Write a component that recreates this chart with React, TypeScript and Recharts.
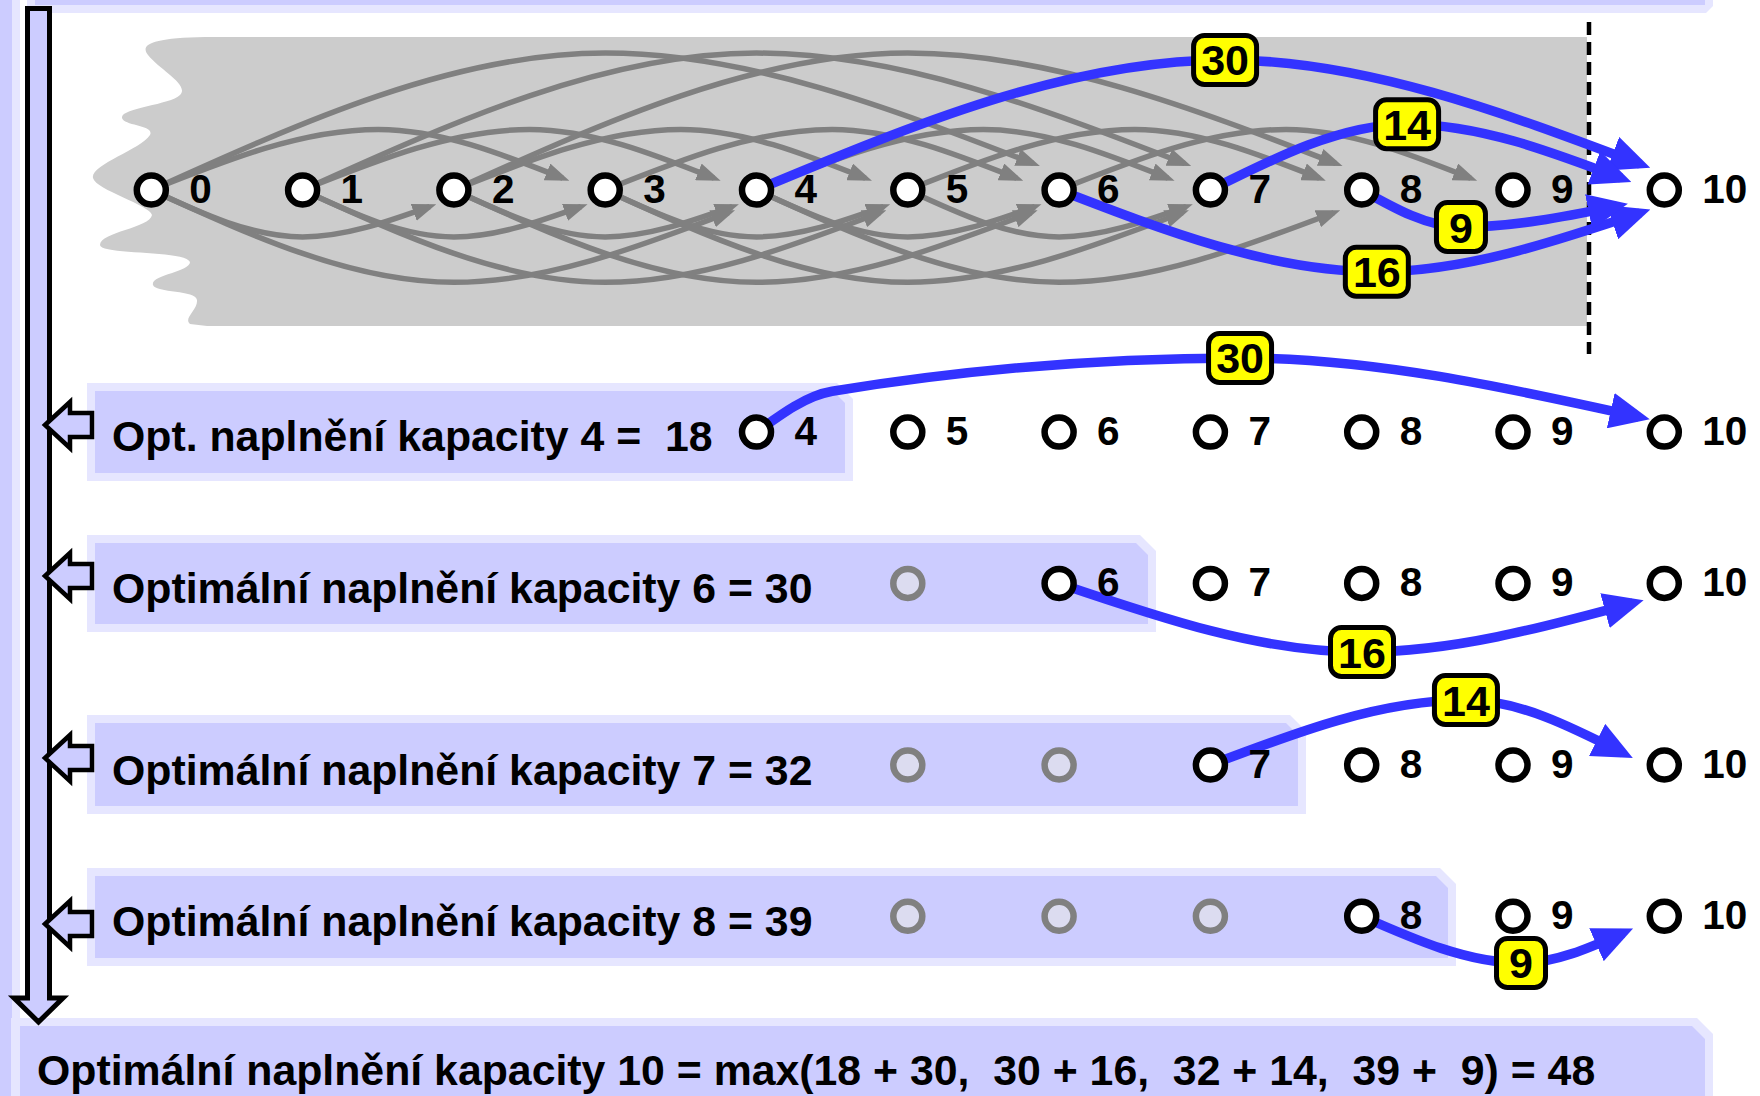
import React from 'react';
import { ComposedChart, XAxis, YAxis, Line, Scatter } from 'recharts';

// ---------------- data ----------------
const NODES = [0, 1, 2, 3, 4, 5, 6, 7, 8, 9, 10];
const TOTAL_CAPACITY = 10;
const ITEM_WEIGHTS = [2, 3, 4, 6];
const ITEM_VALUES = [9, 14, 16, 30];
// last source node from which each item's grey edge is drawn in the full graph
const LAST_GRAY_SOURCE = [5, 6, 4, 2];
const SUB_CAPACITIES = [4, 6, 7, 8];
const SUB_OPTIMA = [18, 30, 32, 39];
// first node shown in each row and first active node in each row
const ROW_FIRST_SHOWN = [0, 4, 5, 5, 5];
const ROW_START_NODE = [0, 4, 6, 7, 8];

// ---------------- layout ----------------
const W = 1760;
const H = 1096;
const STEP = 151.3; // px per node step (same on both axes)
const X0 = 151.3; // px of node 0
const Y0 = 190; // px of row 0
const X_DOMAIN = [-X0 / STEP, (W - X0) / STEP];
const Y_DOMAIN = [-Y0 / STEP, (H - Y0) / STEP];
const ROW_LEVELS = [0, 1.6, 2.6, 3.8, 4.8];

// arc shape for each weight: bulge (negative = above) and line end offset from target
const ARC_BULGE: Record<number, number> = { 2: 0.31, 3: -0.4, 4: 0.61, 6: -0.905 };
const ARC_END: Record<number, [number, number]> = {
  2: [-0.16, 0.11],
  3: [-0.28, -0.078],
  4: [-0.185, 0.15],
  6: [-0.17, -0.175],
};
// curve guide points of the highlighted edges (order of SUB_CAPACITIES)
type Guide = { lead?: number[]; via: number[]; end: number[] };
const FULL_BEST_LAYOUT: Guide[] = [
  { via: [7.097, -0.86], end: [9.839, -0.172] },
  { via: [8.1, 0.54], end: [9.839, 0.152] },
  { via: [8.3, -0.435], end: [9.714, -0.079] },
  { via: [8.656, 0.245], end: [9.688, 0.106] },
];
const ROW_BEST_LAYOUT: Guide[] = [
  { lead: [4.5, 1.33], via: [7.196, 1.11], end: [9.833, 1.5] },
  { via: [8.002, 3.054], end: [9.793, 2.73] },
  { via: [8.689, 3.371], end: [9.727, 3.721] },
  { via: [9.053, 5.109], end: [9.727, 4.911] },
];

const FONT = '"Liberation Sans", Arial, Helvetica, sans-serif';
const LAV = '#ccccff';
const LAV_LIGHT = '#e6e6ff';
const BLUE = '#3333ff';
const GREY = '#808080';

// ---------------- derived series ----------------
type Pt = { x: number; y: number };

const grayEdges: Pt[][] = ITEM_WEIGHTS.flatMap((w, k) => {
  const out: Pt[][] = [];
  for (let s = 0; s <= LAST_GRAY_SOURCE[k]; s++) {
    out.push([
      { x: s, y: 0 },
      { x: s + w / 2, y: ARC_BULGE[w] },
      { x: s + w + ARC_END[w][0], y: ARC_END[w][1] },
    ]);
  }
  return out;
});

const itemValueFor = (c: number) => ITEM_VALUES[ITEM_WEIGHTS.indexOf(TOTAL_CAPACITY - c)];

const buildPts = (from: number, level: number, g: Guide): Pt[] => {
  const pts: Pt[] = [{ x: from, y: level }];
  if (g.lead) pts.push({ x: g.lead[0], y: g.lead[1] });
  pts.push({ x: g.via[0], y: g.via[1] });
  pts.push({ x: g.end[0], y: g.end[1] });
  return pts;
};

const blueEdges: { pts: Pt[]; via: Pt; value: number }[] = [];
SUB_CAPACITIES.forEach((c, k) => {
  const v = itemValueFor(c);
  const f = FULL_BEST_LAYOUT[k];
  blueEdges.push({ pts: buildPts(c, ROW_LEVELS[0], f), via: { x: f.via[0], y: f.via[1] }, value: v });
  const r = ROW_BEST_LAYOUT[k];
  blueEdges.push({ pts: buildPts(c, ROW_LEVELS[k + 1], r), via: { x: r.via[0], y: r.via[1] }, value: v });
});

const tagData = blueEdges.map((e) => ({ x: e.via.x, y: e.via.y, value: e.value }));

const nodeData = ROW_LEVELS.flatMap((lvl, r) =>
  NODES.filter((n) => n >= ROW_FIRST_SHOWN[r]).map((n) => ({
    x: n,
    y: lvl,
    label: n >= ROW_START_NODE[r] ? String(n) : '',
    muted: n < ROW_START_NODE[r],
  }))
);

const rowTexts = SUB_CAPACITIES.map((c, k) =>
  k === 0
    ? `Opt. naplnění kapacity ${c} =  ${SUB_OPTIMA[k]}`
    : `Optimální naplnění kapacity ${c} = ${SUB_OPTIMA[k]}`
);
const sums = SUB_CAPACITIES.map((c, k) => SUB_OPTIMA[k] + itemValueFor(c));
const bottomText = `Optimální naplnění kapacity ${TOTAL_CAPACITY} = max(${SUB_CAPACITIES.map(
  (c, k) => `${SUB_OPTIMA[k]} + ${String(itemValueFor(c)).padStart(2, ' ')}`
).join(',  ')}) = ${Math.max(...sums)}`;

// ---------------- shapes ----------------
function NodeShape(props: any) {
  const { cx, cy, payload } = props;
  if (cx == null || cy == null) return <g />;
  return (
    <g>
      <circle
        cx={cx}
        cy={cy}
        r={14.5}
        fill={payload.muted ? '#dcdcf0' : '#ffffff'}
        stroke={payload.muted ? GREY : '#000'}
        strokeWidth={6.5}
      />
      {payload.label ? (
        <text x={cx + 38} y={cy + 13} fontSize={40.5} fontWeight="bold" fontFamily={FONT} fill="#000">
          {payload.label}
        </text>
      ) : null}
    </g>
  );
}

function ValueTag(props: any) {
  const { cx, cy, payload } = props;
  if (cx == null || cy == null) return <g />;
  const txt = String(payload.value);
  const w = txt.length > 1 ? 63 : 49;
  return (
    <g>
      <rect x={cx - w / 2} y={cy - 24.5} width={w} height={49} rx={11} ry={11} fill="#ffff00" stroke="#000" strokeWidth={5} />
      <text x={cx} y={cy + 15.5} textAnchor="middle" fontSize={43} fontWeight="bold" fontFamily={FONT} fill="#000">
        {txt}
      </text>
    </g>
  );
}

const boxPath = (x1: number, y1: number, x2: number, y2: number, c: number) =>
  `M${x1},${y1} H${x2 - c} L${x2},${y1 + c} V${y2} H${x1} Z`;

const ROW_BOXES = [
  [87, 383, 853, 481],
  [87, 535, 1156, 632],
  [87, 715, 1306, 814],
  [87, 868, 1456, 966],
];
const ROW_TEXT_BASELINES = [451, 603, 785, 936];
const SMALL_ARROW_Y = [425, 576, 758, 924];

function Underlay() {
  return (
    <svg width={W} height={H} style={{ position: 'absolute', left: 0, top: 0 }}>
      <defs>
        <marker id="arrowGray" viewBox="0 0 24 18" refX={17} refY={9} markerWidth={24} markerHeight={18} markerUnits="userSpaceOnUse" orient="auto">
          <path d="M0,0 L24,9 L0,18 Z" fill={GREY} />
        </marker>
        <marker id="arrowBlue" viewBox="0 0 40 36" refX={29} refY={18} markerWidth={40} markerHeight={36} markerUnits="userSpaceOnUse" orient="auto">
          <path d="M0,0 L40,18 L0,36 Z" fill={BLUE} />
        </marker>
      </defs>
      {/* left strip */}
      <rect x={0} y={0} width={12} height={H} fill={LAV} />
      <rect x={12} y={0} width={8} height={H} fill={LAV_LIGHT} />
      {/* top band (bottom of box above) */}
      <path d="M27,0 H1713 V6 L1706,13 H27 Z" fill={LAV_LIGHT} />
      <rect x={35} y={0} width={1670} height={5} fill={LAV} />
      {/* grey area with torn left edge */}
      <path
        d="M1587,37 L205,37 C150,38 140,45 148,55 C160,70 190,85 180,95 C170,105 120,108 122,118 C124,126 155,125 150,135 C140,150 90,165 93,178 C96,190 150,205 152,215 C150,228 100,232 100,245 C100,255 185,250 190,262 C190,272 150,275 153,285 C156,293 196,290 197,300 C198,310 183,318 190,324 L207,326 L1587,326 Z"
        fill="#cccccc"
      />
      <line x1={1589} y1={22} x2={1589} y2={354} stroke="#000" strokeWidth={4.5} strokeDasharray="13 7" />
      {/* row boxes */}
      {ROW_BOXES.map(([x1, y1, x2, y2], i) => (
        <g key={'box' + i}>
          <path d={boxPath(x1, y1, x2, y2, 16)} fill={LAV_LIGHT} />
          <path d={boxPath(x1 + 8, y1 + 8, x2 - 8, y2 - 8, 12)} fill={LAV} />
        </g>
      ))}
      {rowTexts.map((t, i) => (
        <text
          key={'rt' + i}
          x={112}
          y={ROW_TEXT_BASELINES[i]}
          fontSize={42.8}
          fontWeight="bold"
          fontFamily={FONT}
          fill="#000"
          style={{ whiteSpace: 'pre' }}
        >
          {t}
        </text>
      ))}
      {/* bottom box */}
      <path d={boxPath(11, 1018, 1713, 1110, 16)} fill={LAV_LIGHT} />
      <path d={boxPath(20, 1026, 1705, 1110, 13)} fill={LAV} />
      <text x={37} y={1085} fontSize={42.8} fontWeight="bold" fontFamily={FONT} fill="#000" style={{ whiteSpace: 'pre' }}>
        {bottomText}
      </text>
      {/* big downward arrow */}
      <path
        d="M27.5,8.5 L49.5,8.5 L49.5,998 L63,998 L38.5,1022 L14,998 L27.5,998 Z"
        fill={LAV}
        stroke="#000"
        strokeWidth={5}
        strokeLinejoin="miter"
      />
      {/* small left arrows */}
      {SMALL_ARROW_Y.map((y, i) => (
        <path
          key={'sa' + i}
          d={`M45,${y} L70,${y - 23} L70,${y - 12} L92,${y - 12} L92,${y + 12} L70,${y + 12} L70,${y + 23} Z`}
          fill={LAV}
          stroke="#000"
          strokeWidth={4.5}
          strokeLinejoin="miter"
        />
      ))}
    </svg>
  );
}

export default function App() {
  return (
    <div style={{ position: 'absolute', left: 0, top: 0, width: W, height: H, background: '#fff', overflow: 'hidden' }}>
      <Underlay />
      <div style={{ position: 'absolute', left: 0, top: 0, width: W, height: H }}>
        <ComposedChart width={W} height={H} margin={{ top: 0, right: 0, bottom: 0, left: 0 }}>
          <XAxis type="number" dataKey="x" domain={X_DOMAIN} hide height={0} />
          <YAxis type="number" dataKey="y" domain={Y_DOMAIN} reversed hide width={0} />
          {grayEdges.map((pts, i) => (
            <Line
              key={'g' + i}
              data={pts}
              dataKey="y"
              type="monotoneX"
              stroke={GREY}
              strokeWidth={5.5}
              dot={false}
              activeDot={false}
              isAnimationActive={false}
              markerEnd="url(#arrowGray)"
            />
          ))}
          {blueEdges.map((e, i) => (
            <Line
              key={'b' + i}
              data={e.pts}
              dataKey="y"
              type="monotoneX"
              stroke={BLUE}
              strokeWidth={9.5}
              dot={false}
              activeDot={false}
              isAnimationActive={false}
              markerEnd="url(#arrowBlue)"
            />
          ))}
          <Scatter data={nodeData} dataKey="y" shape={NodeShape} isAnimationActive={false} />
          <Scatter data={tagData} dataKey="y" shape={ValueTag} isAnimationActive={false} />
        </ComposedChart>
      </div>
    </div>
  );
}
